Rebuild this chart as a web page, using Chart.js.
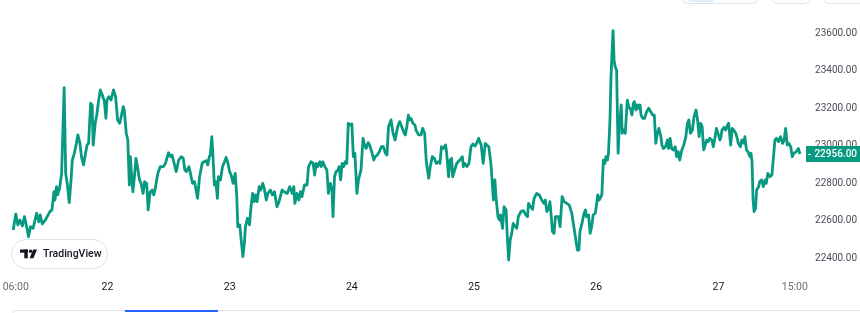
<!DOCTYPE html>
<html>
<head>
<meta charset="utf-8">
<script src="https://cdn.jsdelivr.net/npm/chart.js@4.4.1/dist/chart.umd.min.js"></script>
<style>
html, body { margin: 0; padding: 0; background: #fff; }
#wrap { width: 860px; height: 313px; }
</style>
</head>
<body>
<div id="wrap"><canvas id="chart" width="860" height="313"></canvas></div>
<script>
// hours since 21 Jan 00:00
var times = [
  5.5, 6.0, 6.4, 6.8, 7.3, 7.7, 8.2, 8.5, 8.9, 9.4, 10.1, 10.5, 10.8, 11.2, 11.8, 12.7, 13.1, 13.5, 13.7, 14.0,
  14.2, 14.6, 15.0, 15.5, 15.8, 16.1, 16.5, 16.9, 17.1, 17.5, 17.9, 18.2, 18.6, 18.9, 19.3, 19.7, 20.0, 20.3, 20.7, 21.0,
  21.2, 21.6, 21.9, 22.2, 22.6, 23.0, 23.4, 23.7, 23.9, 24.3, 24.7, 25.2, 25.6, 26.0, 26.4, 26.7, 27.1, 27.3, 27.7, 28.0,
  28.3, 28.5, 28.8, 29.0, 29.3, 29.6, 29.9, 30.3, 30.6, 31.0, 31.3, 31.5, 31.7, 32.0, 32.4, 32.8, 33.1, 33.4, 33.9, 34.4,
  35.0, 35.4, 36.0, 36.4, 36.7, 37.1, 37.5, 38.0, 38.5, 38.9, 39.2, 39.5, 40.0, 40.3, 40.7, 41.1, 41.7, 42.1, 42.6, 43.0,
  43.4, 43.7, 44.0, 44.2, 44.5, 44.7, 45.0, 45.3, 45.6, 45.8, 46.2, 46.6, 47.0, 47.3, 47.6, 48.0, 48.3, 48.7, 49.1, 49.4,
  49.6, 50.0, 50.2, 50.6, 50.9, 51.1, 51.5, 51.9, 52.2, 52.5, 52.8, 53.1, 53.4, 53.8, 54.1, 54.5, 54.8, 55.2, 55.5, 56.0,
  56.4, 56.8, 57.3, 57.7, 58.3, 58.7, 59.3, 59.8, 60.3, 60.6, 60.8, 61.2, 61.6, 61.9, 62.2, 62.7, 63.2, 63.5, 64.0, 64.4,
  64.7, 65.0, 65.3, 65.7, 66.0, 66.3, 66.7, 67.1, 67.4, 67.8, 68.1, 68.3, 68.6, 68.9, 69.3, 69.5, 69.8, 70.1, 70.4, 70.7,
  71.0, 71.3, 71.7, 72.0, 72.3, 72.6, 73.0, 73.3, 73.8, 74.2, 74.4, 74.8, 75.2, 75.5, 75.9, 76.3, 76.6, 77.0, 77.4, 77.8,
  78.2, 78.6, 78.9, 79.2, 79.7, 80.1, 80.5, 81.0, 81.4, 81.8, 82.3, 82.5, 82.8, 83.1, 83.3, 83.6, 84.0, 84.4, 84.6, 85.1,
  85.6, 85.9, 86.3, 86.6, 86.8, 87.1, 87.4, 87.8, 88.2, 88.6, 89.0, 89.3, 89.6, 90.0, 90.4, 90.6, 91.0, 91.3, 91.6, 91.8,
  92.2, 92.6, 92.9, 93.3, 93.7, 93.9, 94.2, 94.6, 95.0, 95.4, 95.8, 96.2, 96.5, 96.9, 97.2, 97.4, 97.8, 98.2, 98.5, 98.9,
  99.3, 99.5, 99.8, 100.1, 100.3, 100.7, 101.0, 101.2, 101.6, 101.9, 102.3, 102.5, 102.8, 103.1, 103.4, 103.7, 104.1, 104.4, 104.7, 105.2,
  105.7, 106.2, 106.5, 106.7, 107.1, 107.5, 107.8, 108.3, 108.8, 109.3, 109.7, 110.0, 110.3, 110.7, 110.9, 111.2, 111.4, 111.7, 112.0, 112.6,
  112.9, 113.3, 113.7, 114.2, 114.7, 115.2, 115.5, 115.9, 116.3, 116.6, 116.8, 117.2, 117.6, 117.9, 118.1, 118.5, 118.8, 119.1, 119.4, 119.8,
  120.1, 120.3, 120.6, 121.1, 121.4, 121.7, 121.9, 122.2, 122.4, 122.7, 122.9, 123.3, 123.5, 123.7, 124.0, 124.3, 124.5, 124.9, 125.1, 125.4,
  125.7, 126.1, 126.4, 126.8, 127.0, 127.3, 127.5, 127.8, 128.1, 128.3, 128.6, 128.8, 129.1, 129.5, 129.9, 130.3, 130.7, 131.1, 131.4, 131.7,
  132.0, 132.3, 132.7, 132.9, 133.2, 133.6, 134.0, 134.2, 134.5, 134.8, 135.1, 135.5, 135.8, 136.1, 136.4, 136.8, 137.2, 137.6, 137.9, 138.2,
  138.5, 138.9, 139.2, 139.6, 139.9, 140.2, 140.5, 140.8, 141.1, 141.3, 141.7, 142.0, 142.3, 142.7, 143.0, 143.3, 143.6, 144.0, 144.3, 144.5,
  144.7, 145.1, 145.4, 145.7, 146.0, 146.4, 146.7, 147.0, 147.4, 147.7, 147.9, 148.3, 148.6, 149.0, 149.2, 149.5, 149.8, 150.2, 150.4, 150.6,
  150.8, 151.0, 151.3, 151.5, 151.9, 152.1, 152.5, 152.8, 153.2, 153.4, 153.7, 154.1, 154.5, 154.7, 155.1, 155.4, 155.8, 156.2, 156.6, 156.9,
  157.2, 157.5, 157.8, 158.2, 158.5, 158.8, 159.3, 159.7, 160.0
];
var prices = [
  22551, 22636, 22578, 22604, 22572, 22622, 22560, 22515, 22569, 22560, 22640, 22595, 22631, 22583, 22604, 22649, 22658, 22755, 22711, 22782,
  22738, 22773, 22853, 23310, 22853, 22800, 22697, 22835, 22924, 22960, 23013, 23058, 23013, 22942, 22898, 22960, 23004, 23013, 23227, 23218,
  23004, 23120, 23164, 23227, 23298, 23271, 23236, 23147, 23244, 23262, 23244, 23298, 23262, 23138, 23120, 23155, 23209, 23191, 23067, 23031,
  22791, 22942, 22818, 22755, 22835, 22933, 22889, 22818, 22800, 22746, 22809, 22782, 22800, 22658, 22755, 22764, 22738, 22773, 22853, 22889,
  22889, 22907, 22963, 22942, 22951, 22907, 22862, 22924, 22942, 22933, 22871, 22862, 22889, 22853, 22800, 22809, 22720, 22835, 22907, 22915,
  22921, 22898, 22942, 22951, 23049, 22960, 22791, 22809, 22720, 22835, 22818, 22889, 22915, 22938, 22915, 22862, 22844, 22800, 22853, 22729,
  22569, 22578, 22515, 22409, 22480, 22569, 22613, 22578, 22675, 22746, 22702, 22738, 22702, 22782, 22764, 22800, 22773, 22711, 22746, 22764,
  22738, 22755, 22675, 22702, 22764, 22755, 22746, 22782, 22746, 22782, 22693, 22746, 22711, 22755, 22729, 22791, 22791, 22889, 22915, 22906,
  22844, 22906, 22889, 22915, 22889, 22915, 22889, 22871, 22746, 22800, 22764, 22622, 22835, 22862, 22871, 22889, 22818, 22906, 22889, 22915,
  22906, 23120, 23111, 23116, 22942, 22960, 22746, 22818, 22871, 23040, 23013, 22986, 23017, 23004, 22969, 22924, 22942, 22951, 22969, 22995,
  22995, 22960, 22951, 23102, 23138, 23067, 23031, 23102, 23129, 23102, 23067, 23058, 23102, 23164, 23138, 23147, 23120, 23111, 23084, 23058,
  23058, 23093, 23067, 22924, 22880, 22827, 22889, 22942, 22933, 22906, 22915, 22906, 22995, 22986, 23004, 22969, 22835, 22924, 22933, 22835,
  22871, 22906, 22915, 22928, 22942, 22889, 22906, 22889, 22906, 22995, 23010, 22999, 23013, 23040, 23017, 23004, 22907, 23013, 23004, 22995,
  22907, 22835, 22711, 22818, 22729, 22622, 22604, 22631, 22560, 22675, 22658, 22533, 22391, 22498, 22533, 22586, 22569, 22560, 22622, 22649,
  22654, 22631, 22622, 22693, 22675, 22661, 22720, 22746, 22738, 22711, 22693, 22711, 22649, 22667, 22702, 22613, 22542, 22533, 22622, 22622,
  22569, 22729, 22702, 22693, 22684, 22640, 22586, 22515, 22444, 22444, 22542, 22586, 22640, 22658, 22622, 22631, 22533, 22569, 22631, 22640,
  22693, 22738, 22711, 22738, 22924, 22906, 22942, 22924, 22960, 23138, 23369, 23614, 23458, 23422, 23404, 22960, 23084, 23218, 23067, 23084,
  23067, 23244, 23209, 23191, 23164, 23227, 23235, 23191, 23218, 23200, 23218, 23164, 23147, 23147, 23182, 23200, 23182, 23164, 23164, 23013,
  23067, 23093, 23049, 23004, 22986, 22995, 23031, 22986, 23040, 22986, 22978, 22995, 22942, 22969, 22924, 22978, 23004, 23049, 23120, 23138,
  23067, 23084, 23155, 23191, 23138, 23049, 23120, 23102, 22978, 22995, 23031, 23022, 23040, 23031, 22995, 23040, 23093, 23058, 23031, 23049,
  23084, 23098, 23084, 23106, 23120, 23004, 23093, 23084, 23067, 23040, 23013, 22995, 23031, 23013, 23049, 22978, 22969, 22942, 22960, 22915,
  22711, 22649, 22667, 22764, 22782, 22809, 22818, 22782, 22818, 22800, 22853, 22835, 22844, 22906, 23031, 23040, 23022, 23049, 23013, 23031,
  23093, 23004, 23013, 22995, 22942, 22960, 22969, 22986, 22956
];
var tickHours = [6, 24, 48, 72, 96, 120, 144, 159];
var tickLabels = ["06:00", "22", "23", "24", "25", "26", "27", "15:00"];
var priceTicks = [22400, 22600, 22800, 23000, 23200, 23400, 23600];
var lastPrice = 22956;

var green = '#089981';

var points = times.map(function (t, i) { return { x: t, y: prices[i] }; });

// tag, logo badge and the bits of UI around the chart
var extras = {
  id: 'extras',
  beforeDraw: function (chart) {
    var c = chart.ctx;
    c.save();
    c.fillStyle = '#fff';
    c.fillRect(0, 0, chart.width, chart.height);
    c.restore();
  },
  afterDraw: function (chart) {
    var c = chart.ctx;
    var area = chart.chartArea;
    var y = Math.round(chart.scales.y.getPixelForValue(lastPrice));
    c.save();

    // last price tag
    c.fillStyle = green;
    c.fillRect(area.right + 1, y - 8, chart.width - area.right - 1, 16);
    c.strokeStyle = '#fff';
    c.lineWidth = 1;
    c.beginPath();
    c.moveTo(area.right + 3, y + 0.5);
    c.lineTo(area.right + 6, y + 0.5);
    c.stroke();
    c.fillStyle = '#fff';
    c.font = '500 10px Roboto';
    c.textAlign = 'right';
    c.textBaseline = 'middle';
    c.fillText(lastPrice.toFixed(2), 857, y + 0.5);

    // TradingView badge
    c.beginPath();
    c.roundRect(11.5, 239.5, 96, 29, 14.5);
    c.fillStyle = '#fff';
    c.fill();
    c.strokeStyle = '#e0e3eb';
    c.stroke();
    c.fillStyle = '#131722';
    c.fillRect(20, 249.5, 8, 3.2);
    c.fillRect(24.3, 249.5, 3.4, 8.8);
    c.beginPath();
    c.arc(30.6, 251.2, 1.7, 0, Math.PI * 2);
    c.fill();
    c.beginPath();
    c.moveTo(33.2, 249.5);
    c.lineTo(37, 249.5);
    c.lineTo(33.4, 258.3);
    c.lineTo(29.6, 258.3);
    c.closePath();
    c.fill();
    c.font = '500 10.5px Roboto';
    c.textAlign = 'left';
    c.textBaseline = 'middle';
    c.fillText('TradingView', 43, 254.5);

    // top-right buttons, cut off by the frame
    c.strokeStyle = '#e0e3eb';
    c.beginPath(); c.roundRect(681.5, -20, 77, 23.5, 6); c.stroke();
    c.beginPath(); c.roundRect(771.5, -20, 39, 23.5, 6); c.stroke();
    c.beginPath(); c.roundRect(823.5, -20, 45, 23.5, 6); c.stroke();
    c.fillStyle = '#e3effd';
    c.fillRect(689, 0, 25, 2);

    // bottom panel edge
    c.beginPath(); c.roundRect(12.5, 310.5, 870, 30, 4); c.stroke();
    c.strokeStyle = '#2962ff';
    c.lineWidth = 2;
    c.beginPath(); c.moveTo(125, 311); c.lineTo(218, 311); c.stroke();

    c.restore();
  }
};

var chart = new Chart(document.getElementById('chart'), {
  type: 'line',
  data: {
    datasets: [{
      data: points,
      borderColor: green,
      borderWidth: 2.8,
      borderJoinStyle: 'round',
      pointRadius: 0,
      tension: 0,
      fill: false
    }]
  },
  options: {
    responsive: false,
    animation: false,
    events: [],
    layout: { padding: { left: 0, top: 0, right: 3, bottom: 0 } },
    plugins: { legend: { display: false }, tooltip: { enabled: false } },
    scales: {
      x: {
        type: 'linear',
        min: 2.9,
        max: 161,
        grid: { display: false, drawTicks: false },
        border: { display: false },
        afterBuildTicks: function (s) {
          s.ticks = tickHours.map(function (v) { return { value: v }; });
        },
        ticks: {
          autoSkip: false,
          maxRotation: 0,
          padding: 9,
          font: { family: 'Roboto', size: 10.5 },
          color: function (ctx) {
            return tickLabels[ctx.index].indexOf(':') > -1 ? '#6a6d78' : '#131722';
          },
          callback: function (v, i) { return tickLabels[i]; }
        },
        afterFit: function (s) {
          s.height = 41;
          s.paddingLeft = 0;
          s.paddingRight = 0;
        }
      },
      y: {
        position: 'right',
        min: 22326.9,
        max: 23777.6,
        grid: { display: false, drawTicks: false },
        border: { display: false },
        afterBuildTicks: function (s) {
          s.ticks = priceTicks.map(function (v) { return { value: v }; });
        },
        ticks: {
          crossAlign: 'far',
          padding: 0,
          font: { family: 'Roboto', size: 10 },
          color: '#4a4e59',
          callback: function (v) { return v.toFixed(2); }
        },
        afterFit: function (s) {
          s.width = 52;
          s.paddingTop = 0;
          s.paddingBottom = 0;
        }
      }
    }
  },
  plugins: [extras]
});
</script>
</body>
</html>
